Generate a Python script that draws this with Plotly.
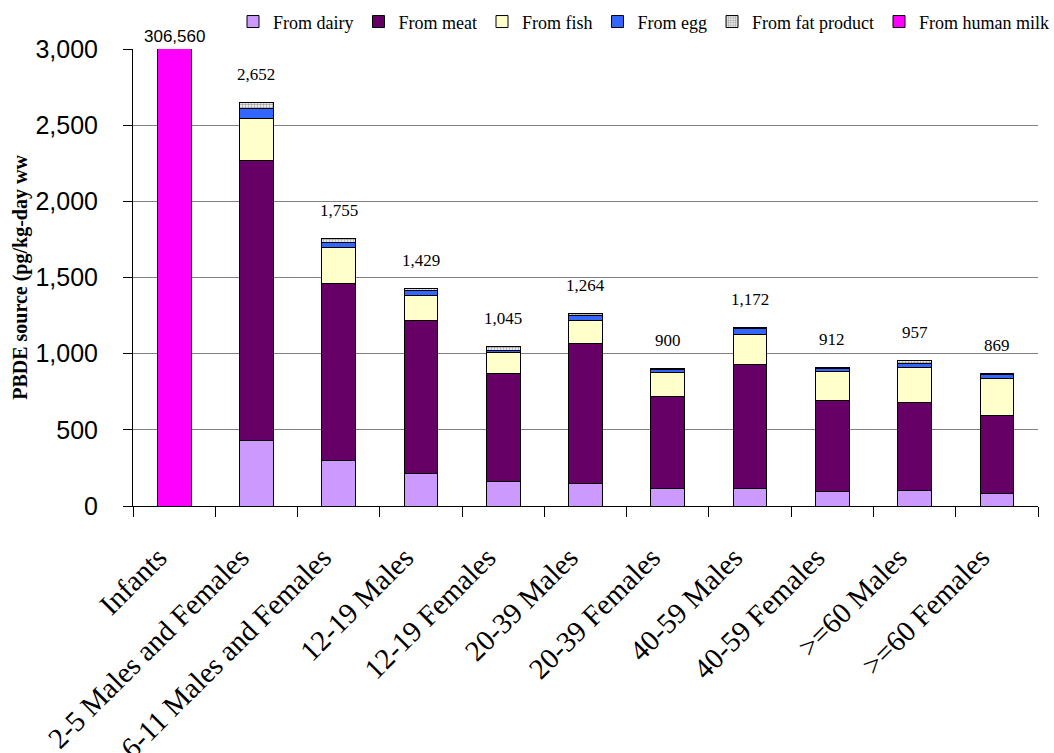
import plotly.graph_objects as go

categories = ["Infants", "2-5 Males and Females", "6-11 Males and Females", "12-19 Males",
              "12-19 Females", "20-39 Males", "20-39 Females", "40-59 Males",
              "40-59 Females", ">=60 Males", ">=60 Females"]
dairy = [None, 433, 297, 215, 160, 149, 114, 114, 96, 105, 83]
meat = [None, 1832, 1165, 1006, 711, 919, 608, 816, 595, 576, 510]
fish = [None, 282, 236, 164, 138, 153, 153, 199, 191, 230, 245]
egg = [None, 61, 31, 29, 15, 28, 18, 35, 19, 26, 22]
fat = [None, 44, 26, 15, 21, 15, 7, 8, 11, 20, 9]
human_milk = [306560, None, None, None, None, None, None, None, None, None, None]
totals = [306560, 2652, 1755, 1429, 1045, 1264, 900, 1172, 912, 957, 869]

SERIF = "Liberation Serif, Times New Roman, serif"
SANS = "Liberation Sans, Arial, sans-serif"

fig = go.Figure()
line = dict(color="black", width=1)
fig.add_bar(x=categories, y=dairy, name="From dairy", marker=dict(color="#CC99FF", line=line))
fig.add_bar(x=categories, y=meat, name="From meat", marker=dict(color="#660066", line=line))
fig.add_bar(x=categories, y=fish, name="From fish", marker=dict(color="#FFFFCC", line=line))
fig.add_bar(x=categories, y=egg, name="From egg", marker=dict(color="#3366FF", line=line))
fig.add_bar(x=categories, y=fat, name="From fat product",
            marker=dict(color="#FFFFFF", line=line,
                        pattern=dict(shape=".", size=3, solidity=0.5, fgcolor="#404040", bgcolor="#FFFFFF")))
fig.add_bar(x=categories, y=human_milk, name="From human milk", marker=dict(color="#FF00FF", line=line))

ymax = 3000
for c, t in zip(categories, totals):
    if t > ymax:
        fig.add_annotation(x=c, y=1.0, yref="paper", yshift=24, text=f"{t:,}", showarrow=False,
                           font=dict(family=SANS, size=17, color="black"))
    else:
        fig.add_annotation(x=c, y=t, yshift=28, text=f"{t:,}", showarrow=False,
                           font=dict(family=SERIF, size=17, color="black"))

fig.update_layout(
    barmode="stack",
    bargap=0.59,
    width=1054, height=753,
    margin=dict(l=133, r=16, t=49, b=247, autoexpand=False),
    plot_bgcolor="white", paper_bgcolor="white",
    showlegend=True,
    legend=dict(orientation="h", traceorder="normal", x=1.0, xanchor="right", xref="container",
                y=0.971, yanchor="middle", yref="container",
                font=dict(family=SERIF, size=18, color="black"),
                itemwidth=30, tracegroupgap=0, bgcolor="rgba(0,0,0,0)"),
    xaxis=dict(tickangle=-45, tickson="boundaries", ticks="outside", ticklen=10, tickcolor="black",
               showline=True, linecolor="black", linewidth=1, automargin=False,
               ticklabelstandoff=22, ticklabelshift=-16,
               tickfont=dict(family=SERIF, size=29, color="black")),
    yaxis=dict(range=[0, ymax], dtick=500, tickformat=",d", ticks="outside", ticklen=9, tickcolor="black",
               showline=True, linecolor="black", linewidth=1, showgrid=True, gridcolor="#808080",
               gridwidth=1, zeroline=False, automargin=False, ticklabelstandoff=20,
               tickfont=dict(family=SANS, size=25, color="black"),
               title=dict(text="<b>PBDE source (pg/kg-day ww</b>", standoff=2,
                          font=dict(family=SERIF, size=20, color="black"))),
)

fig.write_html("out.html")
